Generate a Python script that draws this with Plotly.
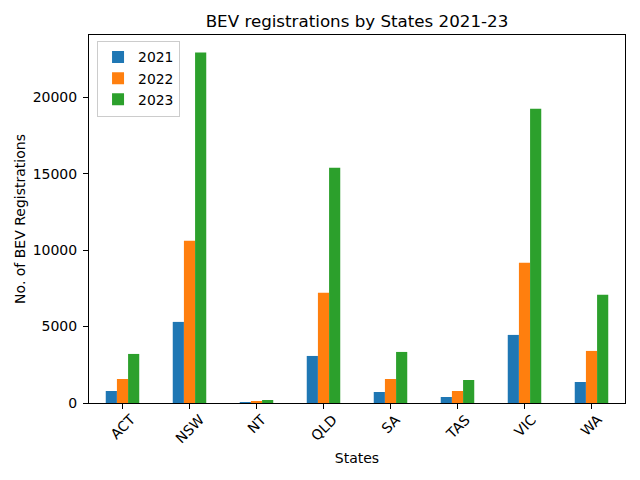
import plotly.graph_objects as go

# registrations
states = ['ACT', 'NSW', 'NT', 'QLD', 'SA', 'TAS', 'VIC', 'WA']
bev_2021 = [786, 5305, 65, 3078, 720, 393, 4454, 1375]
bev_2022 = [1572, 10610, 131, 7205, 1572, 786, 9170, 3406]
bev_2023 = [3209, 22926, 196, 15391, 3340, 1506, 19255, 7073]
years = ['2021', '2022', '2023']
y_ticks = [0, 5000, 10000, 15000, 20000]

color_palete = ['#1f77b4', '#ff7f0e', '#2ca02c']
font_family = 'DejaVu Sans'

# page body has an 8px margin, so the figure is sized to fill the rest of the window
W, H = 632, 472
L, R, T, B = 81, 15, 27, 77

fig = go.Figure()
for year, vals, col in zip(years, [bev_2021, bev_2022, bev_2023], color_palete):
    fig.add_trace(go.Bar(x=states, y=vals, name=year, marker_color=col,
                         marker_line_width=0))

ymax = max(bev_2021 + bev_2022 + bev_2023) * 1.05

fig.update_layout(
    width=W, height=H,
    margin=dict(l=L, r=R, t=T, b=B, autoexpand=False),
    paper_bgcolor='white', plot_bgcolor='white',
    font=dict(family=font_family, size=14, color='black'),
    barmode='group', bargap=0.5, bargroupgap=0,
    title=dict(text='BEV registrations by States 2021-23', x=(L + W - R) / 2 / W,
               xanchor='center', y=1 - 13 / H, yanchor='middle', font=dict(size=16.7)),
    legend=dict(x=0.015, y=0.985, xanchor='left', yanchor='top',
                bordercolor='#cccccc', borderwidth=1, bgcolor='rgba(255,255,255,0.8)',
                font=dict(size=13.9), itemwidth=30, tracegroupgap=0),
)

fig.update_xaxes(
    type='category', showgrid=False, showline=True, linecolor='black', linewidth=1,
    mirror=True, ticks='outside', ticklen=5, tickcolor='black', showticklabels=False,
    automargin=False,
    title=dict(text='States', standoff=45, font=dict(size=14)),
)
fig.update_yaxes(
    range=[0, ymax], showgrid=False, showline=True, linecolor='black', linewidth=1,
    mirror=True, ticks='outside', ticklen=5, tickcolor='black', zeroline=False,
    tickvals=y_ticks, ticktext=[str(v) for v in y_ticks], tickfont=dict(size=14),
    ticklabelstandoff=3, automargin=False,
    title=dict(text='No. of BEV Registrations', standoff=3, font=dict(size=14)),
)

# rotated state labels centred under each tick, like matplotlib rotation=45
for s in states:
    fig.add_annotation(x=s, xref='x', y=0, yref='paper', text=s, showarrow=False,
                       textangle=-45, xanchor='center', yanchor='top', yshift=-7,
                       font=dict(size=14), borderpad=0)

fig.write_html("out.html")
